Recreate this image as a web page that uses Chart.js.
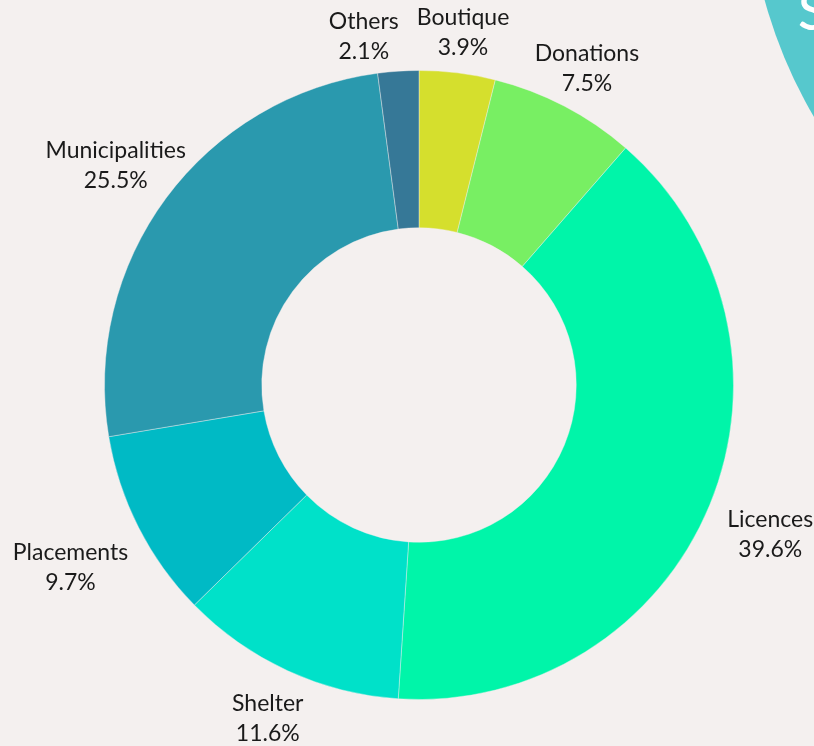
<!DOCTYPE html>
<html>
<head>
<meta charset="utf-8">
<script src="https://cdn.jsdelivr.net/npm/chart.js@4.4.1/dist/chart.umd.min.js"></script>
<style>
  html, body { margin: 0; padding: 0; background: #f4f0ef; }
  #wrap { width: 814px; height: 746px; position: relative; }
</style>
</head>
<body>
<div id="wrap"><canvas id="chart"></canvas></div>
<script>
// Data
const categories = ['Boutique', 'Donations', 'Licences', 'Shelter', 'Placements', 'Municipalities', 'Others'];
const shares = [3.9, 7.5, 39.6, 11.6, 9.7, 25.5, 2.1];
const sliceColors = ['#d5df2d', '#78ef63', '#00f5a9', '#00e1c9', '#00bac5', '#2a99ae', '#367897'];

// Background + teal corner decoration
const backdrop = {
    id: 'backdrop',
    beforeDraw(chart) {
        const ctx = chart.ctx;
        ctx.save();
        ctx.fillStyle = '#f4f0ef';
        ctx.fillRect(0, 0, chart.width, chart.height);
        ctx.beginPath();
        ctx.arc(1236, -130, 489, 0, Math.PI * 2);
        ctx.fillStyle = '#56c8cd';
        ctx.fill();
        ctx.fillStyle = '#ffffff';
        ctx.font = '500 54px Lato';
        ctx.textBaseline = 'top';
        ctx.fillText('S', 798, -14);
        ctx.restore();
    }
};

// Two-line labels outside each slice, block edge sits a fixed gap off the ring
const outsideLabels = {
    id: 'outsideLabels',
    afterDatasetsDraw(chart) {
        const ctx = chart.ctx;
        const meta = chart.getDatasetMeta(0);
        const lineGap = 30;
        const halfH = 26;
        const drop = 5;
        ctx.save();
        ctx.fillStyle = '#1a1a1a';
        ctx.font = '23px Lato';
        ctx.textAlign = 'center';
        ctx.textBaseline = 'middle';
        const boxes = meta.data.map((arc, i) => {
            const pct = shares[i].toFixed(1) + '%';
            const w = Math.max(ctx.measureText(categories[i]).width, ctx.measureText(pct).width);
            const mid = (arc.startAngle + arc.endAngle) / 2;
            const dx = Math.cos(mid), dy = Math.sin(mid);
            const t = Math.min(Math.abs(dx) > 1e-6 ? (w / 2) / Math.abs(dx) : 1e9,
                               Math.abs(dy) > 1e-6 ? halfH / Math.abs(dy) : 1e9);
            const r = arc.outerRadius + 19 + t;
            return { x: arc.x + dx * r, y: arc.y + dy * r + drop, w: w, name: categories[i], pct: pct };
        });
        // push the last label left if it collides with the first one
        const a = boxes[0], b = boxes[boxes.length - 1];
        const overlap = (b.x + b.w / 2) - (a.x - a.w / 2) + 18;
        if (overlap > 0) { b.x -= overlap; b.y += 5; }
        boxes.forEach(bx => {
            ctx.fillText(bx.name, bx.x, bx.y - lineGap / 2);
            ctx.fillText(bx.pct, bx.x, bx.y + lineGap / 2);
        });
        ctx.restore();
    }
};

new Chart(document.getElementById('chart'), {
    type: 'doughnut',
    data: {
        labels: categories,
        datasets: [{
            data: shares,
            backgroundColor: sliceColors,
            borderColor: 'rgba(244,240,239,0.4)',
            borderWidth: 1
        }]
    },
    options: {
        responsive: true,
        maintainAspectRatio: false,
        animation: false,
        cutout: '50%',
        layout: { padding: { left: 104, right: 80, top: 70, bottom: 46 } },
        plugins: {
            legend: { display: false },
            tooltip: { enabled: false }
        }
    },
    plugins: [backdrop, outsideLabels]
});
</script>
</body>
</html>
